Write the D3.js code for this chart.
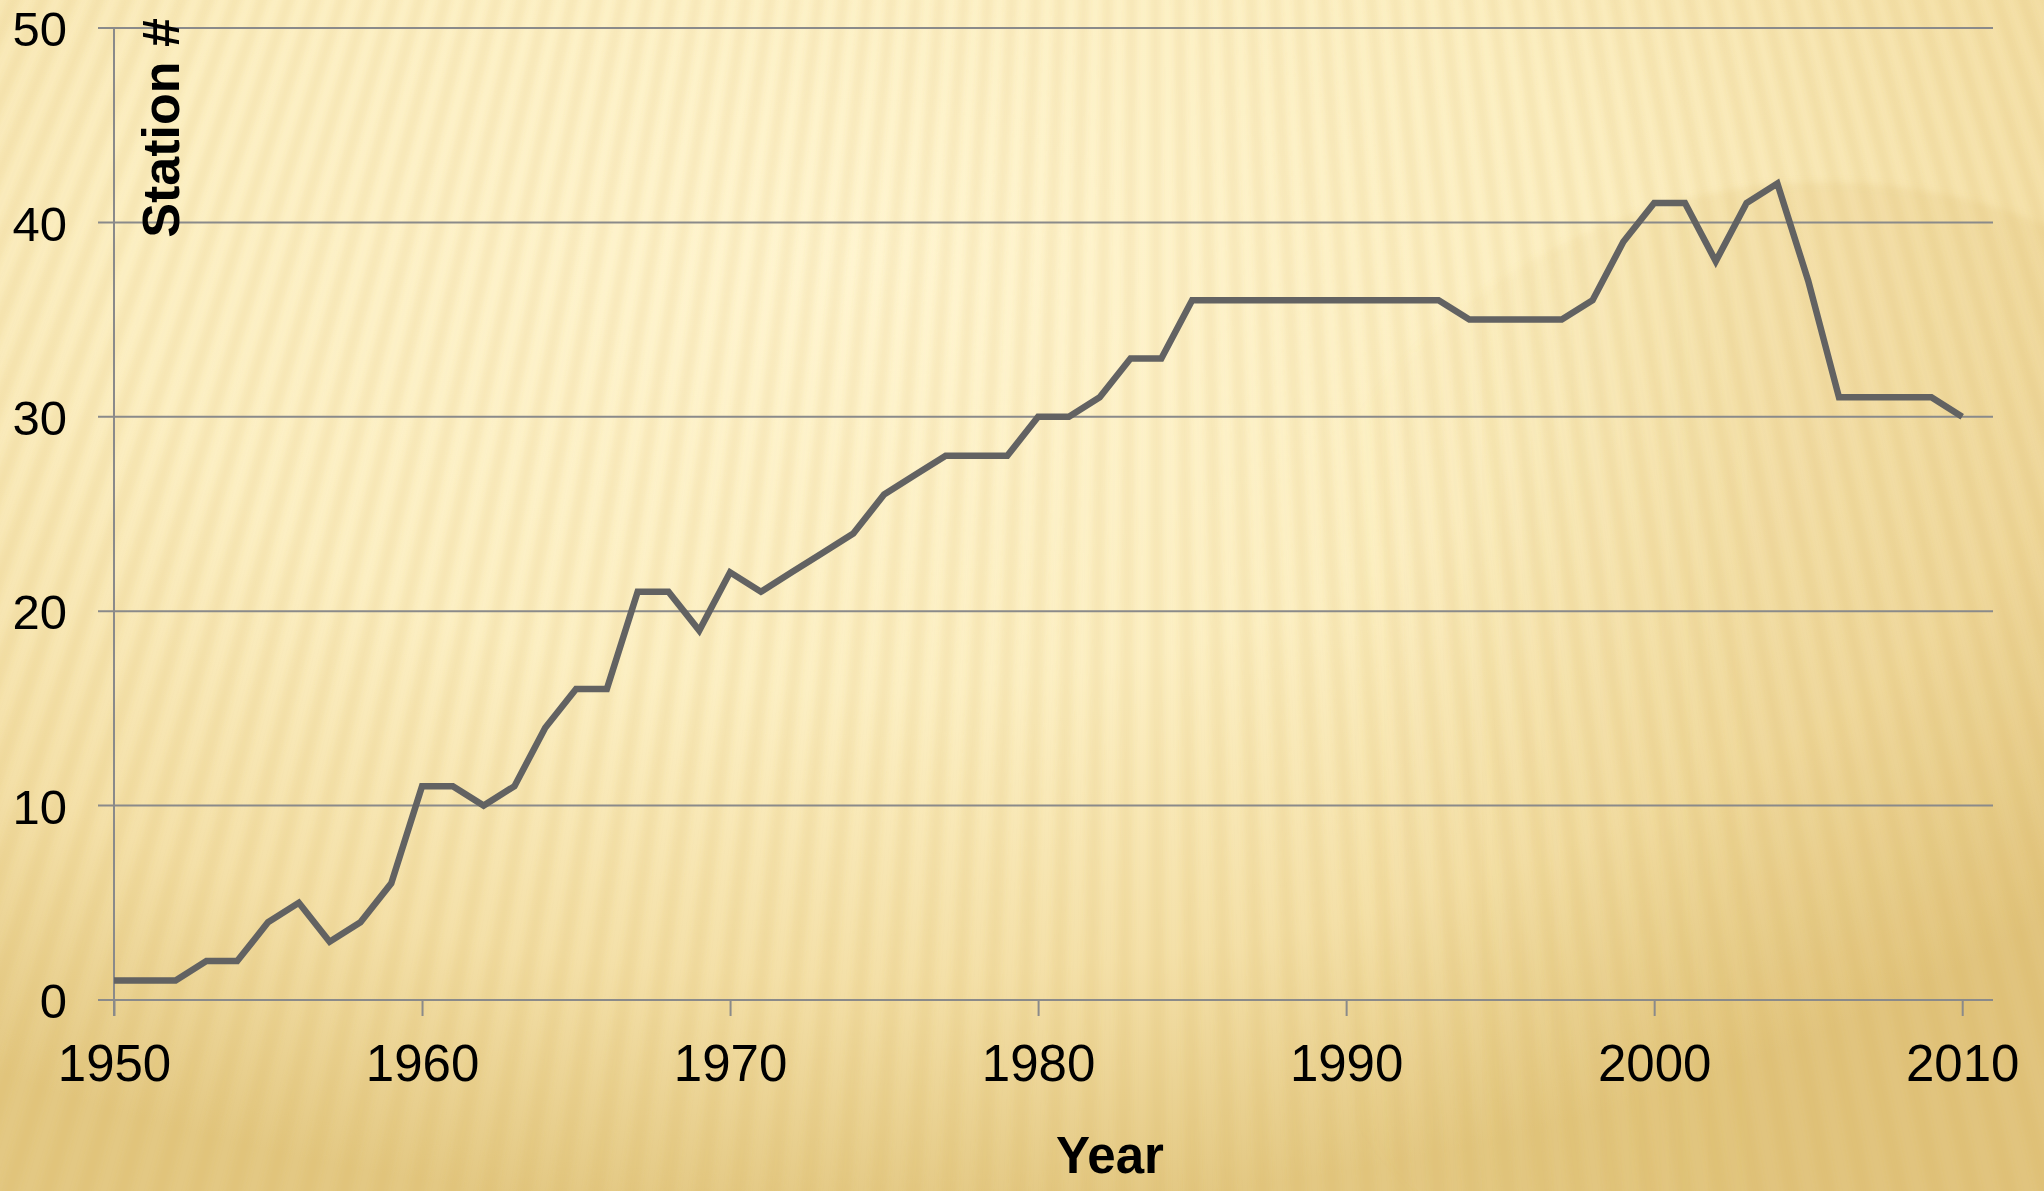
<!DOCTYPE html>
<html>
<head>
<meta charset="utf-8">
<script src="https://cdn.jsdelivr.net/npm/d3@7"></script>
<style>
  html, body { margin: 0; padding: 0; background: #f6e4ad; }
  svg { display: block; }
</style>
</head>
<body>
<svg id="graph"></svg>
<script>
const years = [1950, 1951, 1952, 1953, 1954, 1955, 1956, 1957, 1958, 1959,
  1960, 1961, 1962, 1963, 1964, 1965, 1966, 1967, 1968, 1969,
  1970, 1971, 1972, 1973, 1974, 1975, 1976, 1977, 1978, 1979,
  1980, 1981, 1982, 1983, 1984, 1985, 1986, 1987, 1988, 1989,
  1990, 1991, 1992, 1993, 1994, 1995, 1996, 1997, 1998, 1999,
  2000, 2001, 2002, 2003, 2004, 2005, 2006, 2007, 2008, 2009, 2010];
const stations = [1, 1, 1, 2, 2, 4, 5, 3, 4, 6,
  11, 11, 10, 11, 14, 16, 16, 21, 21, 19,
  22, 21, 22, 23, 24, 26, 27, 28, 28, 28,
  30, 30, 31, 33, 33, 36, 36, 36, 36, 36,
  36, 36, 36, 36, 35, 35, 35, 35, 36, 39,
  41, 41, 38, 41, 42, 37, 31, 31, 31, 31, 30];
const xTicks = [1950, 1960, 1970, 1980, 1990, 2000, 2010];
const yTicks = [0, 10, 20, 30, 40, 50];
const xLabel = 'Year';
const yLabel = 'Station #';

const W = 2044;
const H = 1191;
const margin = { top: 28, right: 51, bottom: 191, left: 114 };
const width = W - margin.left - margin.right;
const height = H - margin.top - margin.bottom;
const font = '"Liberation Sans", Arial, sans-serif';

const svg = d3.select('#graph')
    .attr('width', W)
    .attr('height', H);

const defs = svg.append('defs');

const grad = defs.append('radialGradient')
    .attr('id', 'bg')
    .attr('cx', 0.42).attr('cy', 0.22).attr('r', 0.8);
[[0, '#fff5d1'], [0.45, '#fcefc3'], [0.75, '#f4e0a8'], [1, '#e3c883']]
  .forEach(s => grad.append('stop').attr('offset', s[0]).attr('stop-color', s[1]));

const discGrad = defs.append('linearGradient')
    .attr('id', 'disc')
    .attr('gradientUnits', 'userSpaceOnUse')
    .attr('x1', 1350).attr('y1', 0).attr('x2', 1750).attr('y2', 0);
discGrad.append('stop').attr('offset', 0).attr('stop-color', '#d6b25c').attr('stop-opacity', 0);
discGrad.append('stop').attr('offset', 1).attr('stop-color', '#d6b25c').attr('stop-opacity', 0.16);

defs.append('filter')
    .attr('id', 'soft')
    .attr('x', '-10%').attr('y', '-10%').attr('width', '120%').attr('height', '120%')
  .append('feGaussianBlur')
    .attr('stdDeviation', 3.5);

// background: gradient, a faint disc at top right, and fanned stripes
svg.append('rect')
    .attr('width', W)
    .attr('height', H)
    .attr('fill', 'url(#bg)');

svg.append('circle')
    .attr('cx', 1825).attr('cy', 770).attr('r', 588)
    .attr('fill', 'url(#disc)')
    .attr('filter', 'url(#soft)');

const apex = [1150, -2600];
const step = 0.0092;
const far = 5000;
const stripes = svg.append('g')
    .attr('filter', 'url(#soft)');
for (let i = -70; i <= 70; i += 1) {
  const a0 = i * step;
  const a1 = a0 + step * 0.45;
  const p = [
    apex,
    [apex[0] + far * Math.sin(a0), apex[1] + far * Math.cos(a0)],
    [apex[0] + far * Math.sin(a1), apex[1] + far * Math.cos(a1)],
  ];
  stripes.append('path')
      .attr('d', `M${p[0]}L${p[1]}L${p[2]}Z`)
      .attr('fill', '#cfa94c')
      .attr('opacity', 0.13);
}

const g = svg.append('g')
    .attr('transform', `translate(${margin.left},${margin.top})`);

const x = d3.scaleLinear()
    .domain([1950, 2011])
    .range([0, width]);

const y = d3.scaleLinear()
    .domain([0, 50])
    .range([height, 0]);

const gridColor = '#8a8a8a';

// horizontal gridlines with outside ticks
g.selectAll('.grid')
    .data(yTicks)
  .enter().append('line')
    .attr('class', 'grid')
    .attr('x1', -16)
    .attr('x2', width)
    .attr('y1', d => y(d))
    .attr('y2', d => y(d))
    .attr('stroke', gridColor)
    .attr('stroke-width', 2);

const yAxis = g.append('g')
    .call(d3.axisLeft(y).tickValues(yTicks).tickSize(0).tickPadding(47));
yAxis.select('.domain').remove();
yAxis.selectAll('text')
    .attr('font-family', font)
    .attr('font-size', 49)
    .attr('dy', '0.36em')
    .attr('fill', '#000');

const xAxis = g.append('g')
    .attr('transform', `translate(0,${height})`)
    .call(d3.axisBottom(x).tickValues(xTicks).tickFormat(d3.format('d'))
      .tickSize(16).tickSizeOuter(0).tickPadding(29));
xAxis.select('.domain')
    .attr('stroke', gridColor)
    .attr('stroke-width', 2)
    .attr('d', `M-16,0H${width}`);
xAxis.selectAll('line')
    .attr('stroke', gridColor)
    .attr('stroke-width', 2);
xAxis.selectAll('text')
    .attr('font-family', font)
    .attr('font-size', 51)
    .attr('fill', '#000');

// vertical axis line
g.append('line')
    .attr('x1', 0).attr('x2', 0)
    .attr('y1', 0).attr('y2', height + 16)
    .attr('stroke', gridColor)
    .attr('stroke-width', 2);

const line = d3.line()
    .x((d, i) => x(years[i]))
    .y(d => y(d));

g.append('path')
    .datum(stations)
    .attr('d', line)
    .attr('fill', 'none')
    .attr('stroke', '#626262')
    .attr('stroke-width', 6.5)
    .attr('stroke-linejoin', 'miter');

svg.append('text')
    .attr('x', 1110)
    .attr('y', 1173)
    .attr('text-anchor', 'middle')
    .attr('font-family', font)
    .attr('font-weight', 'bold')
    .attr('font-size', 51)
    .text(xLabel);

svg.append('text')
    .attr('transform', 'translate(179,128) rotate(-90)')
    .attr('text-anchor', 'middle')
    .attr('font-family', font)
    .attr('font-weight', 'bold')
    .attr('font-size', 52)
    .text(yLabel);
</script>
</body>
</html>
